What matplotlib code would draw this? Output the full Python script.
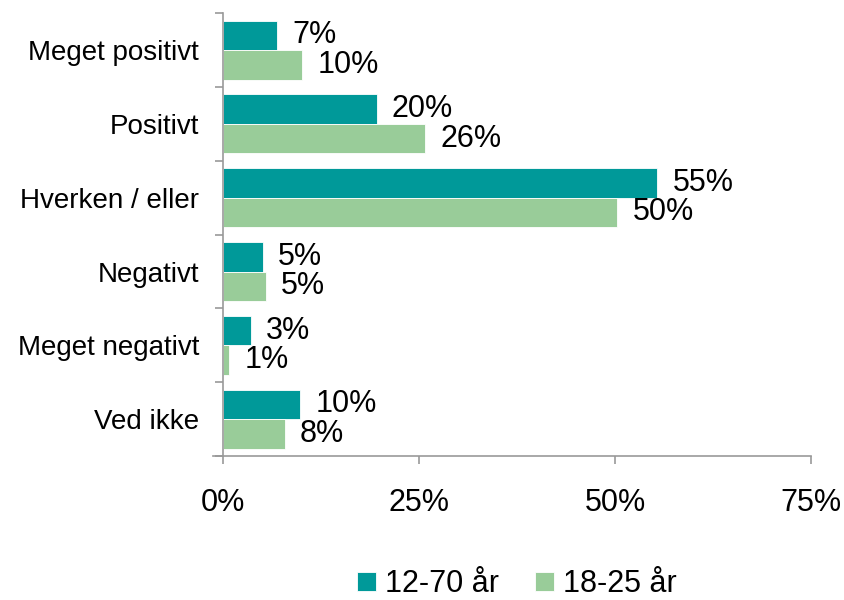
import matplotlib
matplotlib.use('Agg')
import matplotlib.pyplot as plt
import numpy as np

plt.rcParams['font.family'] = ['Liberation Sans', 'DejaVu Sans']

categories = ['Meget positivt', 'Positivt', 'Hverken / eller', 'Negativt', 'Meget negativt', 'Ved ikke']
series_names = ['12-70 år', '18-25 år']
vals_all = [6.9, 19.6, 55.4, 5.1, 3.6, 9.9]
vals_young = [10.1, 25.8, 50.3, 5.5, 0.8, 7.9]
labels_all = ['7%', '20%', '55%', '5%', '3%', '10%']
labels_young = ['10%', '26%', '50%', '5%', '1%', '8%']
xticks = [0, 25, 50, 75]
xtick_labels = ['0%', '25%', '50%', '75%']

teal = '#009999'
green = '#99cc99'
axis_grey = '#999999'

fig = plt.figure(figsize=(8.44, 6.0), dpi=100)
ax = fig.add_axes([0.264, 0.24, 0.697, 0.738])

y = np.arange(len(categories))
h = 0.4
b1 = ax.barh(y - h/2, vals_all, height=h, color=teal, edgecolor='white', linewidth=0.6, label=series_names[0])
b2 = ax.barh(y + h/2, vals_young, height=h, color=green, edgecolor='white', linewidth=0.6, label=series_names[1])

# value labels just right of each bar
for bars, labs in [(b1, labels_all), (b2, labels_young)]:
    for bar, lab in zip(bars, labs):
        ax.annotate(lab, (bar.get_width(), bar.get_y() + bar.get_height()/2),
                    xytext=(11, 0), textcoords='offset points',
                    ha='left', va='center', fontsize=22, color='black')

# tick marks between categories, labels in the middle
ax.set_ylim(len(categories) - 0.5, -0.5)
ax.set_yticks(np.arange(len(categories) + 1) - 0.5)
ax.set_yticklabels([])
ax.set_yticks(y, minor=True)
ax.set_yticklabels(categories, minor=True, fontsize=20)
ax.tick_params(axis='y', which='minor', length=0, pad=17)
ax.tick_params(axis='y', which='major', length=6, width=1.2, color=axis_grey)

ax.set_xlim(0, 75)
ax.set_xticks(xticks)
ax.set_xticklabels(xtick_labels, fontsize=22)
ax.tick_params(axis='x', length=6, width=1.2, color=axis_grey, pad=17)

for s in ['top', 'right']:
    ax.spines[s].set_visible(False)
for s in ['left', 'bottom']:
    ax.spines[s].set_color(axis_grey)
    ax.spines[s].set_linewidth(1.2)
ax.spines['bottom'].set_bounds(-1.2, 75)

ax.legend(loc='center', bbox_to_anchor=(0.5, -0.29), ncol=2, frameon=False,
          fontsize=22, handlelength=0.6, handleheight=0.6, handletextpad=0.3,
          columnspacing=1.2, borderaxespad=0)

fig.savefig('out.png', dpi=100)
